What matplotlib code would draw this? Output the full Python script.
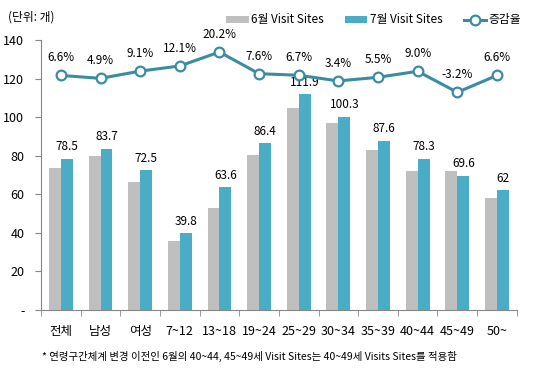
import matplotlib.pyplot as plt
import numpy as np

plt.rcParams['font.family'] = ['Noto Sans CJK KR', 'DejaVu Sans']

# 데이터
categories = ['전체', '남성', '여성', '7~12', '13~18', '19~24', '25~29', '30~34', '35~39', '40~44', '45~49', '50~']
june = [73.6, 79.8, 66.5, 35.5, 52.9, 80.3, 104.9, 97.0, 83.0, 71.8, 71.9, 58.2]
july = [78.5, 83.7, 72.5, 39.8, 63.6, 86.4, 111.9, 100.3, 87.6, 78.3, 69.6, 62]
july_labels = ['78.5', '83.7', '72.5', '39.8', '63.6', '86.4', '111.9', '100.3', '87.6', '78.3', '69.6', '62']
growth = [6.6, 4.9, 9.1, 12.1, 20.2, 7.6, 6.7, 3.4, 5.5, 9.0, -3.2, 6.6]

gray = '#BFBFBF'
teal = '#4BACC6'
line_c = '#3A8DA1'
axis_c = '#868686'

fig = plt.figure(figsize=(5.4, 3.77), dpi=100)
ax = fig.add_axes([0.076, 0.178, 0.881, 0.716])

x = np.arange(len(categories))
w = 0.30
ax.bar(x - w / 2, june, width=w, color=gray, label='6월 Visit Sites')
ax.bar(x + w / 2, july, width=w, color=teal, label='7월 Visit Sites')

for xi, v, s in zip(x, july, july_labels):
    ax.annotate(s, (xi + w / 2, v), xytext=(0, 4), textcoords='offset points',
                ha='center', va='bottom', fontsize=8.5)

ax.set_xlim(-0.5, len(categories) - 0.5)
ax.set_ylim(0, 140)
ax.set_yticks(range(0, 141, 20))
ax.set_yticklabels(['-'] + [str(v) for v in range(20, 141, 20)], fontsize=9)
ax.set_xticks(x)
ax.set_xticklabels(categories, fontsize=9)
ax.set_xticks(np.arange(-0.5, len(categories), 1), minor=True)
ax.tick_params(axis='x', which='major', length=0, pad=11)
ax.tick_params(axis='x', which='minor', length=4, color=axis_c)
ax.tick_params(axis='y', length=4, color=axis_c, pad=8)
for s in ['top', 'right']:
    ax.spines[s].set_visible(False)
ax.spines['left'].set_color(axis_c)
ax.spines['bottom'].set_color(axis_c)

# 증감율 (보조축, 숨김)
ax2 = ax.twinx()
ax2.set_ylim(-129.6, 27.2)
ax2.plot(x, growth, color=line_c, lw=2.2, marker='o', markersize=7,
         markerfacecolor='white', markeredgecolor=line_c, markeredgewidth=1.6,
         label='증감율')
for xi, g in zip(x, growth):
    ax2.annotate(f'{g:.1f}%', (xi, g), xytext=(0, 8), textcoords='offset points',
                 ha='center', va='bottom', fontsize=8.5)
ax2.axis('off')

h1, l1 = ax.get_legend_handles_labels()
h2, l2 = ax2.get_legend_handles_labels()
fig.legend(h1 + h2, l1 + l2, ncol=3, loc='center left', bbox_to_anchor=(0.41, 0.947),
           frameon=False, fontsize=8.5, handlelength=1.9, handleheight=0.6,
           handletextpad=0.2, columnspacing=1.8, borderaxespad=0)

fig.text(0.015, 0.955, '(단위: 개)', fontsize=8.5, va='center')
fig.text(0.078, 0.055, '* 연령구간체계 변경 이전인 6월의 40~44, 45~49세 Visit Sites는 40~49세 Visits Sites를 적용함',
         fontsize=7.5, va='center')

fig.savefig('out.png', dpi=100)
